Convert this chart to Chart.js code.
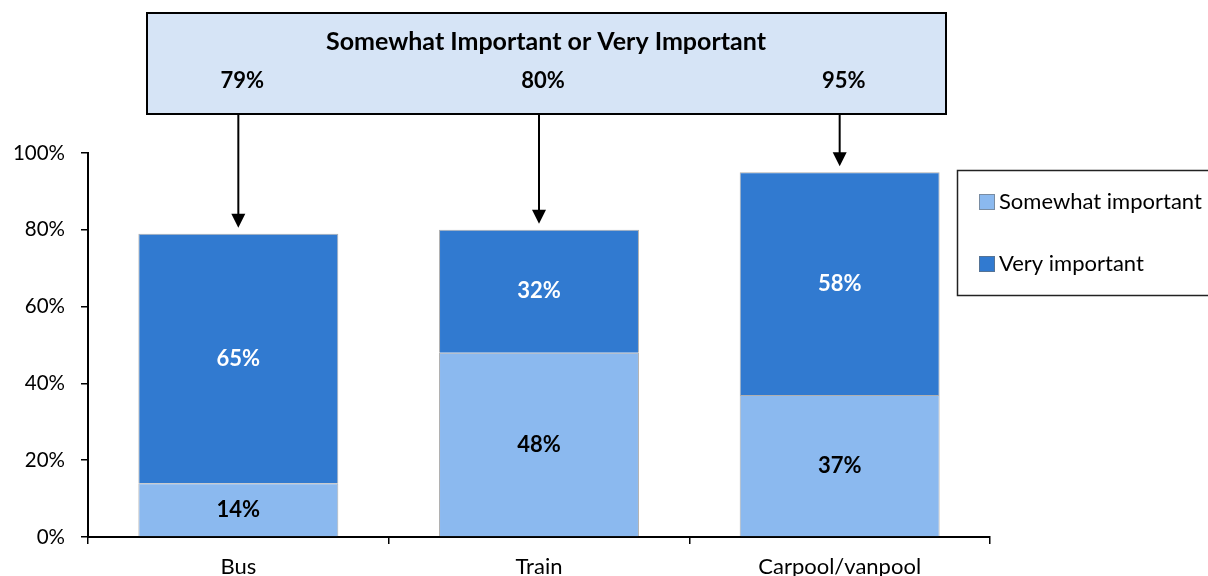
<!DOCTYPE html>
<html>
<head>
<meta charset="utf-8">
<script src="https://cdn.jsdelivr.net/npm/chart.js@4"></script>
<style>
  html, body { margin: 0; padding: 0; background: #fff; }
  #wrap { width: 1208px; height: 576px; position: relative; }
</style>
</head>
<body>
<div id="wrap"><canvas id="importanceChart" width="1208" height="576"></canvas></div>
<script>
const categories = ['Bus', 'Train', 'Carpool/vanpool'];
const somewhatImportant = [14, 48, 37];
const veryImportant = [65, 32, 58];
const yTicks = [0, 20, 40, 60, 80, 100];
const seriesNames = ['Somewhat important', 'Very important'];
const summaryTitle = 'Somewhat Important or Very Important';

const lightBlue = 'rgb(139, 185, 239)';
const darkBlue = 'rgb(49, 122, 208)';
const fontFamily = 'Lato, "Open Sans", sans-serif';

Chart.defaults.font.family = fontFamily;
Chart.defaults.color = '#000';

// percent labels in the middle of each segment
const segmentLabels = {
    id: 'segmentLabels',
    afterDatasetsDraw(chart) {
        const ctx = chart.ctx;
        ctx.save();
        ctx.font = 'bold 22px ' + fontFamily;
        ctx.textAlign = 'center';
        ctx.textBaseline = 'middle';
        chart.data.datasets.forEach((ds, i) => {
            const meta = chart.getDatasetMeta(i);
            ctx.fillStyle = i === 0 ? '#000' : '#fff';
            meta.data.forEach((bar, j) => {
                ctx.fillText(ds.data[j] + '%', bar.x, (bar.y + bar.base) / 2);
            });
        });
        ctx.restore();
    }
};

// summary box with arrows, plus the legend box on the right
const summaryBox = {
    id: 'summaryBox',
    afterDraw(chart) {
        const ctx = chart.ctx;
        const topBars = chart.getDatasetMeta(1).data;
        ctx.save();

        // top box
        ctx.fillStyle = 'rgb(214, 228, 246)';
        ctx.fillRect(147, 13, 799, 101);
        ctx.strokeStyle = '#000';
        ctx.lineWidth = 2;
        ctx.strokeRect(147, 13, 799, 101);

        ctx.fillStyle = '#000';
        ctx.textAlign = 'center';
        ctx.textBaseline = 'middle';
        ctx.font = 'bold 25px ' + fontFamily;
        ctx.fillText(summaryTitle, 546, 42);

        ctx.font = 'bold 22px ' + fontFamily;
        topBars.forEach((bar, j) => {
            const total = somewhatImportant[j] + veryImportant[j];
            ctx.fillText(total + '%', bar.x + 4, 81);

            // arrow down to the top of the stack
            const tip = bar.y - 6;
            ctx.beginPath();
            ctx.moveTo(bar.x, 114);
            ctx.lineTo(bar.x, tip - 12);
            ctx.lineWidth = 2;
            ctx.stroke();
            ctx.beginPath();
            ctx.moveTo(bar.x, tip);
            ctx.lineTo(bar.x - 7, tip - 14);
            ctx.lineTo(bar.x + 7, tip - 14);
            ctx.closePath();
            ctx.fill();
        });

        // legend
        ctx.lineWidth = 1.5;
        ctx.strokeStyle = '#222';
        ctx.strokeRect(957.5, 170.5, 260, 125);
        ctx.textAlign = 'left';
        ctx.font = '22px ' + fontFamily;
        const rows = [202, 264];
        [lightBlue, darkBlue].forEach((c, i) => {
            ctx.fillStyle = c;
            ctx.fillRect(979, rows[i] - 8, 16, 16);
            ctx.strokeStyle = 'rgba(110,110,110,0.6)';
            ctx.lineWidth = 1;
            ctx.strokeRect(979.5, rows[i] - 7.5, 15, 15);
            ctx.fillStyle = '#000';
            ctx.fillText(seriesNames[i], 999, rows[i]);
        });

        ctx.restore();
    }
};

const ctx = document.getElementById('importanceChart').getContext('2d');

const chart = new Chart(ctx, {
    type: 'bar',
    data: {
        labels: categories,
        datasets: [
            {
                label: seriesNames[0],
                data: somewhatImportant,
                backgroundColor: lightBlue,
                borderColor: 'rgba(110, 110, 110, 0.55)',
                borderWidth: 1,
                barPercentage: 0.665,
                categoryPercentage: 1
            },
            {
                label: seriesNames[1],
                data: veryImportant,
                backgroundColor: darkBlue,
                borderColor: 'rgba(110, 110, 110, 0.55)',
                borderWidth: 1,
                barPercentage: 0.665,
                categoryPercentage: 1
            }
        ]
    },
    options: {
        responsive: false,
        animation: false,
        layout: {
            padding: { top: 153, right: 218, left: 0, bottom: 0 }
        },
        plugins: {
            legend: { display: false },
            tooltip: { enabled: false }
        },
        scales: {
            x: {
                stacked: true,
                grid: {
                    drawOnChartArea: false,
                    drawTicks: true,
                    tickLength: 7,
                    color: '#000',
                    lineWidth: 1.5
                },
                border: { color: '#000', width: 2 },
                ticks: {
                    font: { size: 22 },
                    padding: 10,
                    color: '#000'
                },
                afterFit(axis) { axis.height = 39; }
            },
            y: {
                stacked: true,
                min: 0,
                max: 100,
                afterBuildTicks(axis) {
                    axis.ticks = yTicks.map(v => ({ value: v }));
                },
                grid: {
                    drawOnChartArea: false,
                    drawTicks: true,
                    tickLength: 7,
                    color: '#000',
                    lineWidth: 1.5
                },
                border: { color: '#000', width: 2 },
                ticks: {
                    font: { size: 20.5 },
                    padding: 16,
                    color: '#000',
                    callback: v => v + '%'
                },
                afterFit(axis) { axis.width = 88; }
            }
        }
    },
    plugins: [segmentLabels, summaryBox]
});
</script>
</body>
</html>
